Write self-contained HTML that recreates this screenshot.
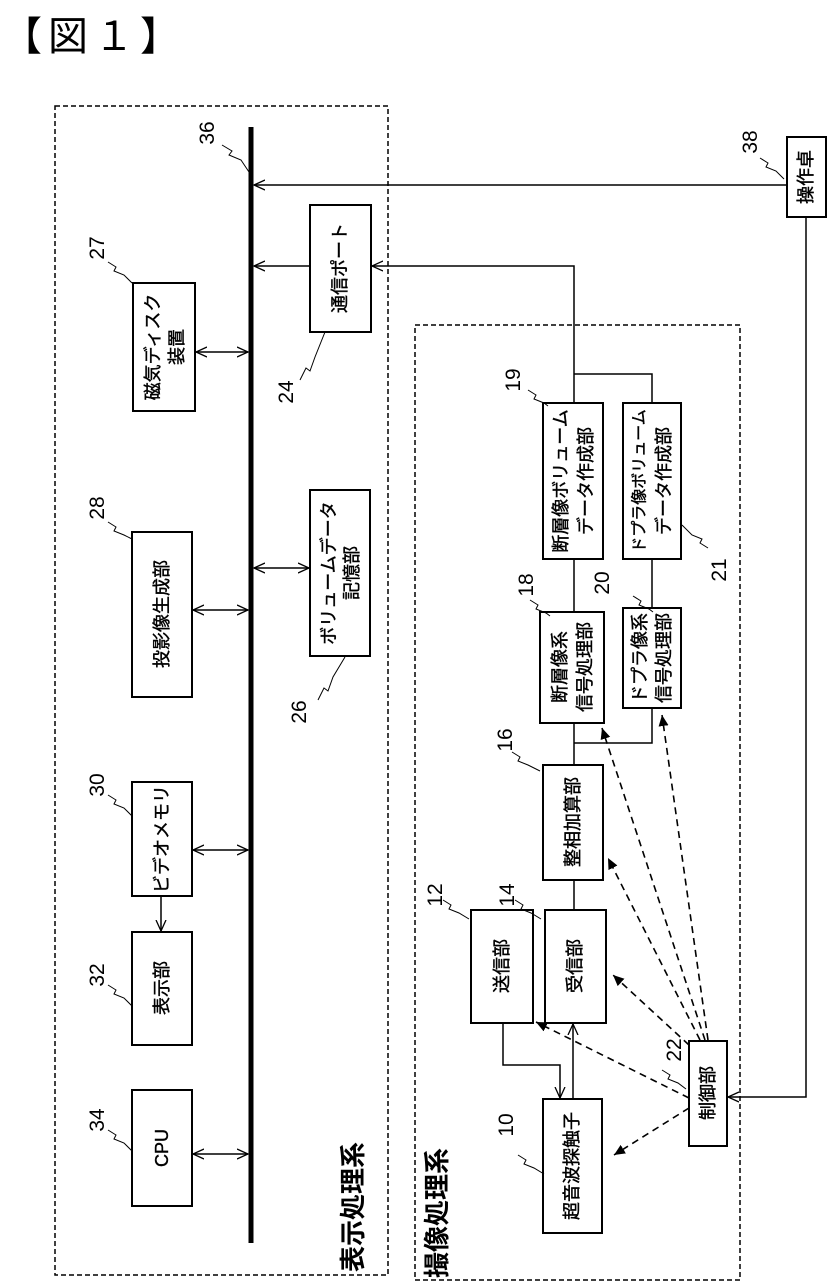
<!DOCTYPE html>
<html><head><meta charset="utf-8"><style>
html,body{margin:0;padding:0;background:#fff}
svg{display:block}
text{font-family:"Liberation Sans","Noto Sans CJK JP",sans-serif;fill:#000}
</style></head><body>
<svg width="833" height="1286" viewBox="0 0 833 1286" xmlns="http://www.w3.org/2000/svg">
<defs>
<marker id="o" viewBox="0 0 12 12" refX="11" refY="6" markerWidth="12" markerHeight="12" orient="auto-start-reverse" markerUnits="userSpaceOnUse">
<path d="M0,1 L11,6 L0,11" fill="none" stroke="#000" stroke-width="1.3"/></marker>
<marker id="f" viewBox="0 0 12 12" refX="11" refY="6" markerWidth="12" markerHeight="12" orient="auto" markerUnits="userSpaceOnUse">
<path d="M0,1 L11,6 L0,11 z" fill="#000"/></marker>
</defs>
<text x="2" y="50" font-size="40" letter-spacing="6">【図１】</text>

<g fill="none" stroke="#000" stroke-width="1.5" stroke-dasharray="5,3">
<rect x="55" y="106" width="333" height="1169"/>
<rect x="415" y="325" width="325" height="955"/>
</g>
<line x1="251" y1="127" x2="251" y2="1243" stroke="#000" stroke-width="5"/>

<g fill="#fff" stroke="#000" stroke-width="2">
<rect x="133" y="283" width="62" height="128"/>
<rect x="310" y="205" width="61" height="127"/>
<rect x="132" y="532" width="60" height="165"/>
<rect x="310" y="490" width="60" height="166"/>
<rect x="132" y="782" width="60" height="114"/>
<rect x="132" y="932" width="60" height="113"/>
<rect x="132" y="1090" width="60" height="116"/>
<rect x="787" y="137" width="39" height="80"/>
<rect x="543" y="403" width="60" height="156"/>
<rect x="623" y="403" width="58" height="156"/>
<rect x="540" y="612" width="64" height="111"/>
<rect x="623" y="608" width="58" height="100"/>
<rect x="543" y="765" width="60" height="115"/>
<rect x="471" y="910" width="62" height="113"/>
<rect x="545" y="910" width="61" height="113"/>
<rect x="543" y="1099" width="59" height="134"/>
<rect x="689" y="1041" width="38" height="105"/>
</g>

<g stroke="#000" stroke-width="1.5" fill="none">
<line x1="787" y1="185" x2="254" y2="185" marker-end="url(#o)"/>
<polyline points="806,217 806,1097 728,1097" marker-end="url(#o)"/>
<line x1="310" y1="266" x2="254" y2="266" marker-end="url(#o)"/>
<polyline points="574,403 574,266 372,266" marker-end="url(#o)"/>
<polyline points="652,403 652,374 574,374"/>
<line x1="196" y1="352" x2="248" y2="352" marker-start="url(#o)" marker-end="url(#o)"/>
<line x1="193" y1="610" x2="248" y2="610" marker-start="url(#o)" marker-end="url(#o)"/>
<line x1="254" y1="568" x2="309" y2="568" marker-start="url(#o)" marker-end="url(#o)"/>
<line x1="193" y1="850" x2="248" y2="850" marker-start="url(#o)" marker-end="url(#o)"/>
<line x1="193" y1="1154" x2="248" y2="1154" marker-start="url(#o)" marker-end="url(#o)"/>
<line x1="161" y1="896" x2="161" y2="931" marker-end="url(#o)"/>
<line x1="574" y1="559" x2="574" y2="612"/>
<line x1="652" y1="559" x2="652" y2="608"/>
<line x1="574" y1="723" x2="574" y2="765"/>
<polyline points="574,743 652,743 652,708"/>
<line x1="574" y1="880" x2="574" y2="910"/>
<polyline points="503,1023 503,1065 560,1065 560,1098" marker-end="url(#o)"/>
<line x1="573" y1="1099" x2="573" y2="1024" marker-end="url(#o)"/>
</g>

<g stroke="#000" stroke-width="1.6" fill="none" stroke-dasharray="7,5">
<line x1="705" y1="1040" x2="602" y2="728" marker-end="url(#f)"/>
<line x1="708" y1="1040" x2="662" y2="715" marker-end="url(#f)"/>
<line x1="700" y1="1040" x2="608" y2="858" marker-end="url(#f)"/>
<line x1="689" y1="1045" x2="613" y2="975" marker-end="url(#f)"/>
<line x1="689" y1="1098" x2="536" y2="1022" marker-end="url(#f)"/>
<line x1="689" y1="1108" x2="614" y2="1155" marker-end="url(#f)"/>
</g>

<g stroke="#000" stroke-width="1" fill="none">
<path d="M222,145 l10,6 -3,4 12,5 l8,12"/>
<path d="M108,262 l8,5 -2,4 10,4 l8,8"/>
<path d="M300,380 l6,-12 4,3 5,-14 l10,-25"/>
<path d="M108,522 l8,5 -2,4 10,4 l8,4"/>
<path d="M318,700 l6,-12 4,3 5,-14 l12,-20"/>
<path d="M108,795 l8,5 -2,4 10,4 l8,8"/>
<path d="M108,985 l8,5 -2,4 10,4 l8,8"/>
<path d="M108,1130 l8,5 -2,4 10,4 l8,8"/>
<path d="M760,158 l8,5 -2,4 10,4 l8,8"/>
<path d="M528,390 l8,5 -2,4 10,4 l4,3"/>
<path d="M530,600 l8,5 -2,4 10,4 l4,3"/>
<path d="M633,596 l8,5 -2,4 10,4 l4,3"/>
<path d="M708,548 l-8,-5 2,-4 -10,-4 l-10,-10"/>
<path d="M512,752 l8,5 -2,4 10,4 l12,6"/>
<path d="M443,900 l8,5 -2,4 10,4 l10,6"/>
<path d="M515,900 l8,5 -2,4 10,4 l10,6"/>
<path d="M518,1155 l8,5 -2,4 10,4 l10,6"/>
<path d="M662,1070 l8,5 -2,4 10,4 l8,6"/>
</g>

<g font-size="21">
<text transform="translate(214,133) rotate(-90)" text-anchor="middle">36</text>
<text transform="translate(104,248) rotate(-90)" text-anchor="middle">27</text>
<text transform="translate(293,392) rotate(-90)" text-anchor="middle">24</text>
<text transform="translate(104,508) rotate(-90)" text-anchor="middle">28</text>
<text transform="translate(306,712) rotate(-90)" text-anchor="middle">26</text>
<text transform="translate(104,785) rotate(-90)" text-anchor="middle">30</text>
<text transform="translate(104,975) rotate(-90)" text-anchor="middle">32</text>
<text transform="translate(104,1120) rotate(-90)" text-anchor="middle">34</text>
<text transform="translate(757,142) rotate(-90)" text-anchor="middle">38</text>
<text transform="translate(520,380) rotate(-90)" text-anchor="middle">19</text>
<text transform="translate(726,570) rotate(-90)" text-anchor="middle">21</text>
<text transform="translate(533,585) rotate(-90)" text-anchor="middle">18</text>
<text transform="translate(609,583) rotate(-90)" text-anchor="middle">20</text>
<text transform="translate(512,740) rotate(-90)" text-anchor="middle">16</text>
<text transform="translate(442,895) rotate(-90)" text-anchor="middle">12</text>
<text transform="translate(514,895) rotate(-90)" text-anchor="middle">14</text>
<text transform="translate(513,1125) rotate(-90)" text-anchor="middle">10</text>
<text transform="translate(681,1050) rotate(-90)" text-anchor="middle">22</text>
</g>

<g font-size="18" text-anchor="middle" dominant-baseline="central" stroke="#000" stroke-width="0.4">
<text transform="translate(153,347) rotate(-90)">磁気ディスク</text>
<text transform="translate(177,347) rotate(-90)">装置</text>
<text transform="translate(340,268) rotate(-90)">通信ポート</text>
<text transform="translate(162,614) rotate(-90)">投影像生成部</text>
<text transform="translate(329,573) rotate(-90)">ボリュームデータ</text>
<text transform="translate(352,573) rotate(-90)">記憶部</text>
<text transform="translate(162,839) rotate(-90)">ビデオメモリ</text>
<text transform="translate(162,988) rotate(-90)">表示部</text>
<text transform="translate(162,1148) rotate(-90)">CPU</text>
<text transform="translate(806,177) rotate(-90)">操作卓</text>
<text transform="translate(561,481) rotate(-90)">断層像ボリューム</text>
<text transform="translate(586,481) rotate(-90)">データ作成部</text>
<text transform="translate(640,481) rotate(-90)" font-size="16">ドプラ像ボリューム</text>
<text transform="translate(664,481) rotate(-90)">データ作成部</text>
<text transform="translate(560,667) rotate(-90)">断層像系</text>
<text transform="translate(585,667) rotate(-90)">信号処理部</text>
<text transform="translate(640,658) rotate(-90)">ドプラ像系</text>
<text transform="translate(664,658) rotate(-90)">信号処理部</text>
<text transform="translate(573,822) rotate(-90)">整相加算部</text>
<text transform="translate(502,966) rotate(-90)">送信部</text>
<text transform="translate(575,966) rotate(-90)">受信部</text>
<text transform="translate(572,1166) rotate(-90)">超音波探触子</text>
<text transform="translate(708,1093) rotate(-90)">制御部</text>
</g>
<g font-size="26" text-anchor="middle" dominant-baseline="central" font-weight="bold">
<text transform="translate(353,1207) rotate(-90)">表示処理系</text>
<text transform="translate(437,1213) rotate(-90)">撮像処理系</text>
</g>
</svg>
</body></html>
